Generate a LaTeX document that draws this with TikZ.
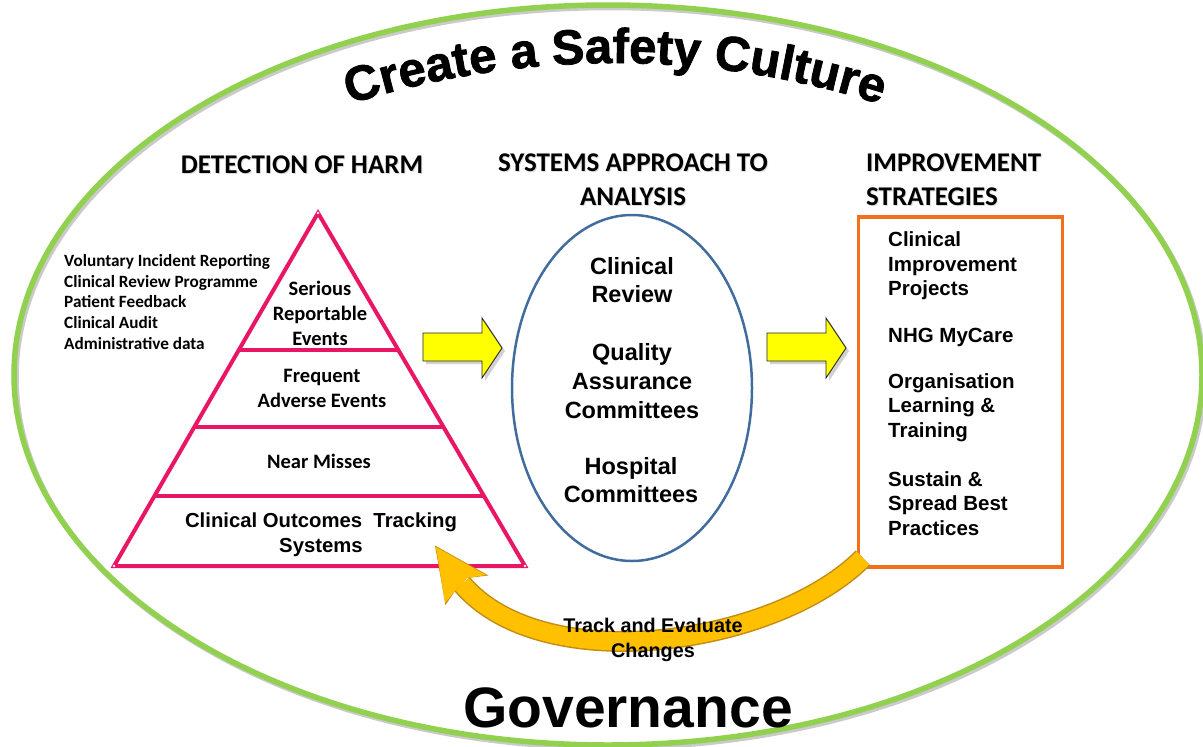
\documentclass[tikz,border=0pt]{standalone}
\usepackage{fontspec}
\setmainfont{Liberation Sans}
\newfontfamily\calibri{Carlito}
\newfontfamily\titlefont[FakeBold=1.6]{Liberation Sans}
\usetikzlibrary{calc,shapes.geometric,decorations.text}
\definecolor{ringgreen}{RGB}{146,208,80}
\definecolor{harmpink}{RGB}{232,22,100}
\definecolor{ovalblue}{RGB}{65,108,158}
\definecolor{boxorange}{RGB}{240,112,30}
\definecolor{loopgold}{RGB}{255,192,0}
\definecolor{loopedge}{RGB}{196,140,20}
\definecolor{arrowyellow}{RGB}{255,255,0}
\begin{document}
\begin{tikzpicture}[x=1pt,y=-1pt,
  txt/.style={inner sep=0pt, align=center, text=black},
  heading/.style={txt, font=\calibri\bfseries\fontsize{27}{34}\selectfont},
  headshadow/.style={heading, text=black!50, opacity=0.3},
  sources/.style={txt, align=left, font=\calibri\bfseries\fontsize{17.2}{20.75}\selectfont},
  tier/.style={txt, font=\calibri\bfseries\fontsize{20.5}{25}\selectfont},
  tierarial/.style={txt, font=\bfseries\fontsize{20.3}{25}\selectfont},
  ovaltxt/.style={txt, font=\bfseries\fontsize{23.5}{28.7}\selectfont},
  boxtxt/.style={txt, align=left, font=\bfseries\fontsize{20.5}{24.6}\selectfont},
  looptxt/.style={txt, font=\bfseries\fontsize{19.8}{25}\selectfont},
  bigarrow/.style={fill=arrowyellow, draw=black!85, line width=0.9, line join=miter},
  arrowshade/.style={fill=black!40, opacity=0.45},
  pyr/.style={draw=harmpink, line width=4},
]
\useasboundingbox (0,0) rectangle (1203,747);

% outer ring with its soft shadow
\draw[black!35, opacity=0.6, line width=5.5] (610,377.5) ellipse [x radius=594, y radius=370];
\draw[ringgreen, line width=5.5] (608,375) ellipse [x radius=594, y radius=370];

% curved title along the top of the ring
\path[decorate, decoration={text along path, text align=center,
  text={|\titlefont\fontsize{49}{49}\selectfont\bfseries|Create a Safety Culture}}]
  (615,938) ++(-109:875) arc[start angle=-109, end angle=-71, radius=875];

% bottom title
\node[txt, anchor=base, font=\bfseries\fontsize{57}{57}\selectfont] (gov) at (628,727) {Governance};

% column headings, each over a faint shadow copy
\node[headshadow] at (303,165.7) {DETECTION OF HARM};
\node[heading] (hdharm) at (302,164.5) {DETECTION OF HARM};
\node[headshadow] at (634,181.2) {SYSTEMS APPROACH TO\\ANALYSIS};
\node[heading] (hdsys) at (633,180) {SYSTEMS APPROACH TO\\ANALYSIS};
\node[headshadow, anchor=west, align=left] at (867,180.7) {IMPROVEMENT\\STRATEGIES};
\node[heading, anchor=west, align=left] (hdimp) at (866,179.5) {IMPROVEMENT\\STRATEGIES};

% detection sources
\node[sources, anchor=west] (src) at (64,302) {Voluntary Incident Reporting\\Clinical Review Programme\\Patient Feedback\\Clinical Audit\\Administrative data};

% pyramid of harm
\coordinate (apex) at (318,213);
\coordinate (bl) at (114,566);
\coordinate (br) at (525,566);
\draw[pyr, line join=miter] (apex) -- (bl) -- (br) -- cycle;
\foreach \t/\n in {0.388/a,0.606/b,0.802/c}{
  \draw[pyr] ($(apex)!\t!(bl)$) coordinate (l\n) -- ($(apex)!\t!(br)$) coordinate (r\n);
}
\foreach \p in {apex,bl,br}{ \fill[white] (\p) circle (1.3); }

\node[tier] (serious) at (320,313) {Serious\\Reportable\\Events};
\node[tier] (frequent) at (322,388) {Frequent\\Adverse Events};
\node[tier] (near) at (319,461) {Near Misses};
\node[tierarial] (outcomes) at (321,535) {Clinical Outcomes\ \ Tracking\\Systems};

% analysis oval
\node[draw=ovalblue, line width=2.5, ellipse, minimum width=240, minimum height=346, inner sep=0] (oval) at (632,388) {};
\node[ovaltxt] (review) at (632,280) {Clinical\\Review};
\node[ovaltxt] (quality) at (632,381) {Quality\\Assurance\\Committees};
\node[ovaltxt] (hospital) at (631,480) {Hospital\\Committees};

% improvement strategies box
\node[draw=boxorange, line width=3.5, minimum width=204, minimum height=350, inner sep=0] (strat) at (960.5,392) {};
\node[boxtxt, anchor=west] (cip) at (888,266) {Clinical\\Improvement\\Projects};
\node[boxtxt, anchor=west] (mycare) at (888,337) {NHG MyCare};
\node[boxtxt, anchor=west] (learn) at (888,407.5) {Organisation\\Learning \&\\Training};
\node[boxtxt, anchor=west] (sustain) at (888,503.5) {Sustain \&\\Spread Best\\Practices};

% block arrows between the stages
\foreach \dx/\nm in {0/one,344/two}{
  \begin{scope}[shift={(\dx,0)}]
    \fill[arrowshade] (426,336) -- (485,336) -- (485,321) -- (505,351) -- (485,381) -- (485,364) -- (426,364) -- cycle;
    \draw[bigarrow] (423,333) -- (482,333) -- (482,318) -- (502,348) -- (482,378) -- (482,361) -- (423,361) -- cycle;
    \coordinate (tip\nm) at (502,348);
  \end{scope}
}

% feedback loop from the strategies back to the pyramid
\coordinate (loopstart) at (863,558);
\coordinate (loopend) at (462,584);
\draw[loopedge, line width=21] (loopstart) .. controls (775,646) and (543,679) .. (loopend);
\draw[loopgold, line width=18] (loopstart) .. controls (775,646) and (543,679) .. (loopend);
\coordinate (looptip) at (436,547);
\fill[loopedge] ($(looptip)+(-1,-1.5)$) -- (488.5,575.5) -- (467,578) -- (455,591) -- (445.5,605) -- cycle;
\fill[loopgold] (looptip) -- (486,575) -- (467,578) -- (455,591) -- (445,603) -- cycle;
\node[looptxt] (track) at (653,639.5) {Track and Evaluate\\Changes};
\end{tikzpicture}
\end{document}
